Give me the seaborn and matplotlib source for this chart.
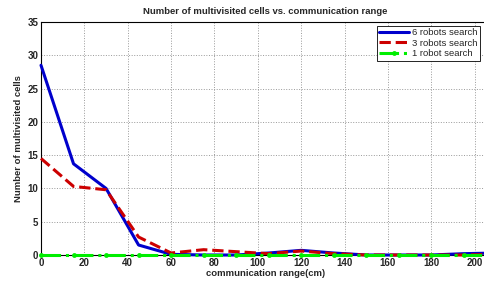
import pandas as pd
import seaborn as sns
import matplotlib.pyplot as plt

comm_range = [0, 15, 30, 45, 60, 75, 90, 105, 120, 135, 150, 165, 180, 195, 210]
six_robots = [28.5, 13.7, 10.0, 1.5, 0.1, 0.0, 0.0, 0.3, 0.7, 0.3, 0.0, 0.0, 0.0, 0.2, 0.3]
three_robots = [14.5, 10.3, 9.8, 2.7, 0.3, 0.8, 0.5, 0.2, 0.6, 0.2, 0.0, 0.0, 0.0, 0.0, 0.1]
one_robot = [0.0] * 15
series_names = ['6 robots search', '3 robots search', '1 robot search']

df = pd.DataFrame({'range': comm_range,
                   series_names[0]: six_robots,
                   series_names[1]: three_robots,
                   series_names[2]: one_robot})
long_df = df.melt(id_vars='range', var_name='series', value_name='cells')

sns.set_theme(style='whitegrid')
plt.rcParams['font.family'] = ['Liberation Sans', 'DejaVu Sans']

fig = plt.figure(figsize=(4.85, 2.82), dpi=100)
ax = fig.add_axes([41 / 485, 27 / 282, 1 - 41 / 485 + 0.01, (255 - 22) / 282])

colors = {'6 robots search': '#0000cc', '3 robots search': '#cc0000', '1 robot search': '#00ee00'}
styles = {'6 robots search': '-', '3 robots search': '--', '1 robot search': '-.'}
for i, name in enumerate(series_names):
    sub = long_df[long_df['series'] == name]
    sns.lineplot(x='range', y='cells', data=sub, ax=ax, color=colors[name],
                 linestyle=styles[name], linewidth=2.2, label=name,
                 marker='o' if name == '1 robot search' else None,
                 markersize=3.5, markeredgewidth=0, zorder=3 + i,
                 clip_on=False)

ax.set_xlim(0, 207)
ax.set_ylim(0, 35)
ax.set_xticks(range(0, 201, 20))
ax.set_yticks(range(0, 36, 5))
ax.grid(True, color='#999999', linestyle=':', linewidth=0.7)
for s in ax.spines.values():
    s.set_color('black')
    s.set_linewidth(0.8)
ax.tick_params(direction='in', length=3, labelsize=7, pad=2, color='black')
for lab in ax.get_xticklabels() + ax.get_yticklabels():
    lab.set_fontweight('bold')

ax.set_title('Number of multivisited cells vs. communication range', fontsize=6.8, fontweight='bold', pad=6)
ax.set_xlabel('communication range(cm)', fontsize=6.8, fontweight='bold', labelpad=1)
ax.set_ylabel('Number of multivisited cells', fontsize=6.8, fontweight='bold', labelpad=3)

leg = ax.legend(loc='upper right', bbox_to_anchor=(480 / 485, 1 - 26 / 282),
                bbox_transform=fig.transFigure, fontsize=6.8, frameon=True, fancybox=False,
                borderpad=0.25, labelspacing=0.15, handlelength=3.2, handletextpad=0.3,
                borderaxespad=0)
leg.get_frame().set_edgecolor('black')
leg.get_frame().set_linewidth(0.6)
leg.get_frame().set_alpha(1)

fig.savefig('out.png', dpi=100)
